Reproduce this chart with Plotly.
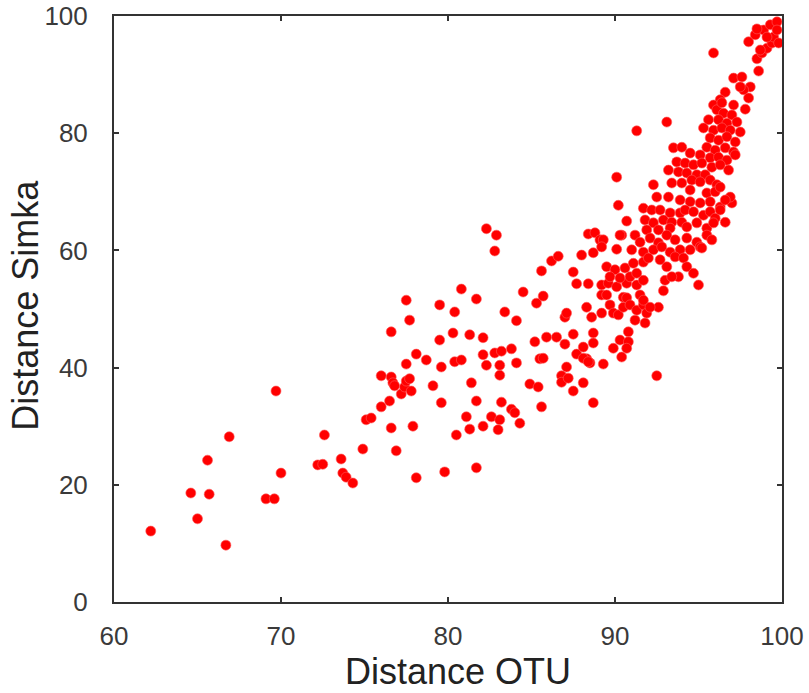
import plotly.graph_objects as go

# Distance OTU (x) and Distance Simka (y)
otu = [
    62.2, 66.7, 65.0, 64.6, 65.7, 65.6, 66.9, 69.7, 69.1, 69.6, 70.0, 72.2, 72.5, 72.6, 73.6, 73.7,
    73.9, 74.3, 74.9, 76.9, 76.6, 77.9, 78.1, 79.8, 75.1, 75.4, 76.0, 76.5, 76.0, 76.6, 76.7, 76.8,
    77.2, 77.4, 77.5, 77.7, 77.8, 77.5, 76.6, 77.7, 77.5, 78.1, 78.7, 79.1, 79.6, 79.6, 79.5, 79.5,
    82.3, 82.9, 82.8, 80.8, 81.7, 80.4, 83.4, 84.1, 84.5, 85.3, 85.7, 85.6, 86.2, 86.6, 80.3, 81.3,
    82.1, 80.4, 80.8, 82.1, 82.3, 82.8, 83.2, 83.8, 83.1, 83.1, 84.1, 81.4, 81.7, 83.2, 81.1, 81.3,
    80.5, 82.1, 82.6, 83.1, 83.0, 83.8, 84.0, 84.3, 81.7, 84.9, 85.4, 85.6, 85.2, 85.9, 86.5, 87.0,
    85.5, 85.7, 87.0, 87.1, 87.5, 87.1, 86.8, 86.8, 87.2, 87.5, 88.1, 88.7, 87.7, 88.1, 88.3, 88.7,
    88.7, 88.5, 89.3, 88.3, 88.6, 87.5, 87.7, 88.4, 88.0, 88.4, 88.8, 89.1, 88.7, 90.2, 90.7, 90.4,
    90.1, 92.5, 92.6, 92.9,
    89.2, 89.6, 90.1, 90.7, 91.3, 89.2, 89.5, 90.5, 90.7, 91.5, 89.2, 89.7, 89.9, 90.2, 90.5, 90.9,
    91.3, 91.7, 91.2, 91.8, 91.9, 88.1, 88.4, 90.8, 90.3, 90.8, 89.9, 90.4, 90.7, 91.7, 92.1,
    91.3, 93.1, 95.9, 97.0, 98.6, 98.0, 98.4, 98.9, 99.3, 99.7, 98.5, 98.8, 99.1, 99.4, 99.5, 99.1,
    97.1, 97.6, 98.1, 97.7, 98.0, 97.8, 96.6, 96.3, 95.9, 96.1, 98.5, 98.7, 99.7, 99.8, 97.5,
    96.4, 97.1, 96.5, 97.0, 97.3, 95.6, 96.2, 96.7, 95.3, 95.9, 96.4, 96.9, 97.5, 95.7, 96.2, 96.7,
    97.2, 95.5, 96.0, 96.6, 97.1, 93.5, 94.0, 94.5, 95.1, 95.7, 96.2, 96.7, 97.2, 93.7, 94.2, 94.7,
    95.2, 95.8, 96.3, 96.8, 93.2, 93.8, 94.3, 94.9, 95.4, 93.4, 94.0, 94.6, 95.1, 95.7, 96.1,
    90.1, 92.3, 92.5, 93.2, 94.5, 95.5, 96.0, 96.3, 96.9, 93.9, 94.5, 95.1, 95.7, 96.3, 96.6, 91.7,
    92.2, 92.7, 93.3, 93.9, 91.8, 92.3, 92.9, 93.4, 94.0, 94.2, 94.7, 95.3, 95.7, 96.0, 94.3, 94.9,
    95.5, 95.9, 96.6, 91.9, 92.6, 93.3, 93.1, 93.6, 94.3, 94.9, 95.5, 90.3, 91.2, 91.5, 92.1, 92.6,
    91.0, 91.7, 92.3, 92.8, 93.3, 93.9, 94.5, 95.1, 89.3, 89.2, 89.5, 90.0, 90.6, 91.1, 91.7, 92.0,
    92.7, 93.1, 93.6, 94.1, 94.3, 94.7, 93.8, 89.7, 90.3, 90.9, 91.3, 91.7, 93.0, 93.4, 95.8, 95.0,
    96.3, 95.2,
]
simka = [
    12.1, 9.7, 14.2, 18.6, 18.4, 24.2, 28.2, 36.0, 17.6, 17.6, 22.0, 23.4, 23.5, 28.5, 24.4, 22.0,
    21.3, 20.3, 26.1, 25.8, 29.7, 30.0, 21.2, 22.2, 31.1, 31.4, 33.3, 34.3, 38.6, 38.4, 37.4, 36.9,
    35.5, 36.7, 37.7, 38.1, 36.0, 40.6, 46.1, 48.1, 51.5, 42.3, 41.3, 36.9, 40.1, 34.0, 44.7, 50.7,
    63.7, 62.6, 59.9, 53.4, 51.7, 49.5, 49.5, 48.0, 52.9, 51.0, 52.2, 56.5, 58.2, 59.0, 45.9, 45.6,
    45.1, 41.0, 41.3, 42.2, 40.4, 42.5, 42.8, 43.2, 40.4, 38.7, 40.8, 37.4, 34.3, 34.1, 31.6, 29.5,
    28.5, 30.0, 31.6, 31.1, 29.4, 32.9, 32.3, 30.5, 22.9, 37.2, 36.7, 33.3, 44.4, 45.2, 45.2, 44.0,
    41.5, 41.6, 48.6, 49.3, 45.7, 40.1, 38.6, 37.5, 38.2, 36.0, 37.4, 34.0, 42.3, 43.5, 41.5, 45.9,
    44.2, 40.8, 40.6, 50.3, 48.6, 56.3, 54.3, 54.3, 59.2, 62.8, 63.0, 61.8, 59.6, 67.7, 65.0, 62.6,
    60.2, 38.6, 50.3, 53.1,
    54.1, 54.4, 53.8, 54.4, 54.1, 52.4, 52.4, 52.0, 51.9, 52.4, 49.3, 50.7, 49.3, 49.0, 50.3, 50.7,
    49.8, 50.7, 48.1, 47.6, 49.3, 41.6, 41.0, 46.1, 44.7, 44.4, 43.3, 41.8, 43.3, 51.5, 50.3,
    80.4, 81.9, 93.7, 68.1, 90.6, 95.6, 96.8, 97.6, 98.5, 99.0, 92.7, 93.7, 94.5, 95.4, 96.4, 96.4,
    89.4, 89.6, 87.9, 87.4, 86.0, 84.1, 87.0, 85.7, 84.8, 84.0, 97.8, 94.2, 97.6, 95.4, 87.9,
    85.2, 84.8, 83.4, 83.1, 81.9, 82.3, 82.3, 81.7, 80.9, 80.5, 80.9, 80.5, 80.2, 79.2, 78.8, 79.4,
    78.5, 77.6, 77.1, 77.5, 76.8, 77.5, 77.6, 76.6, 76.3, 75.8, 75.9, 75.4, 76.3, 75.1, 74.9, 74.6,
    74.9, 74.2, 74.6, 73.7, 73.7, 73.4, 73.2, 72.9, 72.9, 71.5, 71.5, 72.0, 71.7, 72.0, 71.2,
    72.5, 71.2, 69.1, 69.1, 70.3, 69.8, 70.0, 70.8, 69.1, 68.6, 68.3, 68.1, 68.3, 67.4, 68.6, 67.2,
    66.9, 66.9, 66.4, 66.4, 65.2, 64.7, 65.2, 64.8, 64.8, 66.9, 66.6, 66.0, 66.6, 65.5, 64.0, 64.7,
    63.8, 64.7, 64.8, 63.5, 63.5, 63.8, 62.6, 61.8, 62.1, 61.4, 62.6, 62.6, 62.6, 61.4, 62.1, 61.3,
    60.1, 59.7, 60.1, 60.6, 59.7, 60.1, 60.1, 60.6, 61.8, 60.6, 57.2, 56.7, 57.0, 57.8, 58.0, 58.7,
    58.4, 57.2, 58.9, 58.7, 57.2, 56.1, 55.5, 55.5, 55.3, 55.5, 56.1, 54.9, 54.9, 55.5, 61.8, 54.1,
    66.9, 60.4,
]

x_ticks = [60, 70, 80, 90, 100]
y_ticks = [0, 20, 40, 60, 80, 100]
x_title = "Distance OTU"
y_title = "Distance Simka"

FONT = "Liberation Sans, Arial, sans-serif"

fig = go.Figure(
    go.Scatter(
        x=otu, y=simka, mode="markers", cliponaxis=False,
        marker=dict(size=10, color="#ff0000", line=dict(width=0.6, color="rgba(255,90,90,1)")),
        hoverinfo="x+y", showlegend=False,
    )
)

axis_common = dict(
    showgrid=False, zeroline=False, showline=True, linecolor="#333333", linewidth=2,
    mirror="ticks", ticks="inside", ticklen=5, tickwidth=1.5, tickcolor="#333333",
    automargin=False, ticklabeloverflow="allow",
    tickfont=dict(family=FONT, size=26, color="#3a3a3a"),
)

fig.update_layout(
    width=809, height=693,
    margin=dict(l=114, r=27, t=16, b=91),
    paper_bgcolor="white", plot_bgcolor="white",
    xaxis=dict(range=[60, 100], tickvals=x_ticks, ticktext=[str(v) for v in x_ticks],
               ticklabelstandoff=10, **axis_common),
    yaxis=dict(range=[0, 100], tickvals=y_ticks, ticktext=[str(v) for v in y_ticks],
               ticklabelstandoff=19, **axis_common),
    annotations=[
        dict(text=x_title, xref="paper", yref="paper", x=0.515, y=-0.118,
             xanchor="center", yanchor="middle", showarrow=False, borderpad=0,
             font=dict(family=FONT, size=36, color="#222222")),
        dict(text=y_title, xref="paper", yref="paper", x=-0.132, y=0.507, textangle=-90,
             xanchor="center", yanchor="middle", showarrow=False, borderpad=0,
             font=dict(family=FONT, size=36, color="#222222")),
    ],
)

# remove the browser's default 8px body margin so the figure fills the window exactly
fig.write_html("out.html", config={"displayModeBar": False},
               post_script="document.body.style.margin='0';")
